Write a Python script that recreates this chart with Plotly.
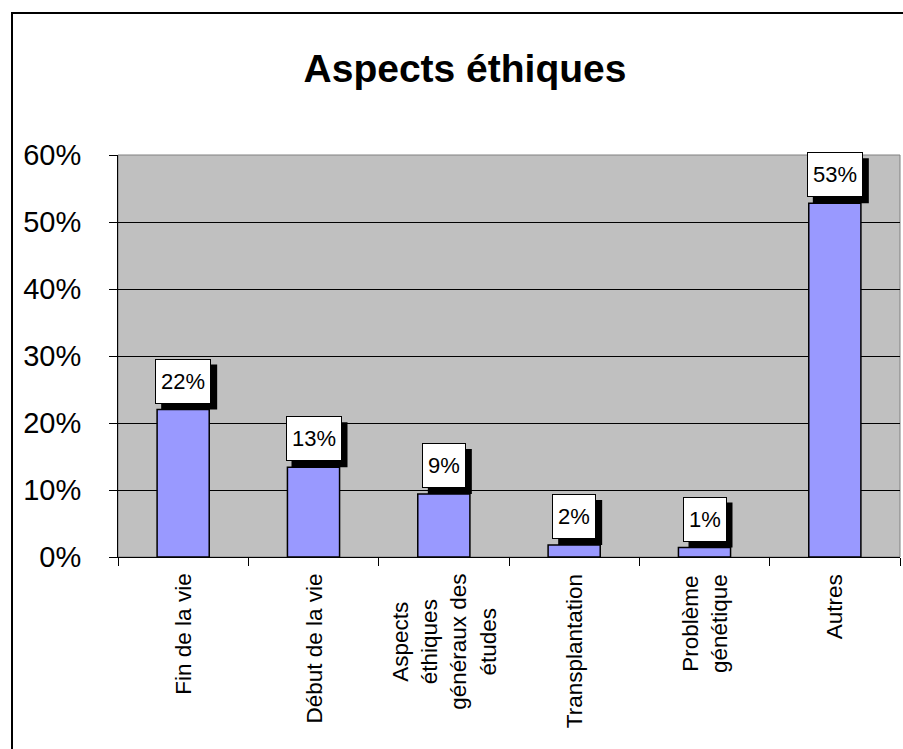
import plotly.graph_objects as go

categories = ["Fin de la vie", "Début de la vie", "Aspects éthiques généraux des études",
              "Transplantation", "Problème génétique", "Autres"]
tick_texts = ["Fin de la vie", "Début de la vie", "Aspects<br>éthiques<br>généraux des<br>études",
              "Transplantation", "Problème<br>génétique", "Autres"]
values = [0.22, 0.134, 0.094, 0.018, 0.014, 0.528]
label_texts = [f"{round(v*100)}%" for v in values]
y_ticks = [0, 0.1, 0.2, 0.3, 0.4, 0.5, 0.6]

FONT = "Arial, Liberation Sans, sans-serif"

fig = go.Figure()
fig.add_trace(go.Bar(
    x=categories, y=values, width=0.4,
    marker=dict(color="#9999FF", line=dict(color="black", width=1.5)),
    hoverinfo="skip",
))

PAD = 4
BW = 1
BOX_H = 35
GAP = 6
SH = 6

annotations = []
shapes = []
for i, (c, v, t) in enumerate(zip(categories, values, label_texts)):
    w = 12 * len(t) + 10
    outer_w = w + 2 * (PAD + BW)
    outer_h = BOX_H + 2 * (PAD + BW)
    shapes.append(dict(type="rect", xref="x", yref="y",
                       xsizemode="pixel", ysizemode="pixel",
                       xanchor=i, yanchor=v,
                       x0=-outer_w / 2 + SH, x1=outer_w / 2 + SH,
                       y0=GAP - SH, y1=GAP - SH + outer_h,
                       fillcolor="black", line=dict(width=0), layer="above"))
    annotations.append(dict(x=c, y=v, xref="x", yref="y", text=t, showarrow=False,
                            yanchor="bottom", xanchor="center", yshift=GAP,
                            width=w, height=BOX_H,
                            font=dict(family=FONT, size=22, color="black"),
                            bgcolor="white", bordercolor="black", borderwidth=BW,
                            borderpad=PAD))
for c, t in zip(categories, tick_texts):
    annotations.append(dict(x=c, y=0, xref="x", yref="paper", text=t, showarrow=False,
                            textangle=-90, yanchor="top", xanchor="center", yshift=-15,
                            align="center",
                            font=dict(family=FONT, size=22.5, color="black")))

x_left = (12 - 118) / 782
x_right = (930 - 118) / 782
y_top = (557 - 13) / 402
y_bot = (557 - 800) / 402
shapes.append(dict(type="rect", xref="paper", yref="paper", x0=0, x1=1, y0=0, y1=1,
                   line=dict(color="#808080", width=1), layer="below"))
shapes.append(dict(type="path", xref="paper", yref="paper",
                   path=f"M {x_left},{y_bot} L {x_left},{y_top} L {x_right},{y_top}",
                   line=dict(color="black", width=2), layer="above"))

fig.update_layout(
    width=903, height=749,
    margin=dict(l=118, r=3, t=155, b=192, autoexpand=False),
    paper_bgcolor="white", plot_bgcolor="#C0C0C0",
    showlegend=False,
    title=dict(text="<b>Aspects éthiques</b>", x=465/903, xanchor="center",
               y=1 - 68/749, yanchor="middle",
               font=dict(family=FONT, size=39, color="black")),
    xaxis=dict(type="category", range=[-0.5, 5.5], showticklabels=False,
               tickson="boundaries", ticks="outside", ticklen=8, tickcolor="black",
               showline=True, linecolor="black", linewidth=1, showgrid=False,
               zeroline=False),
    yaxis=dict(range=[0, 0.6], tickvals=y_ticks, tickformat=".0%",
               ticks="outside", ticklen=8, tickcolor="black",
               ticklabelstandoff=22,
               tickfont=dict(family=FONT, size=29, color="black"),
               showline=True, linecolor="black", linewidth=1,
               showgrid=True, gridcolor="black", gridwidth=1, zeroline=False),
    annotations=annotations,
    shapes=shapes,
)

fig.write_html("out.html")
